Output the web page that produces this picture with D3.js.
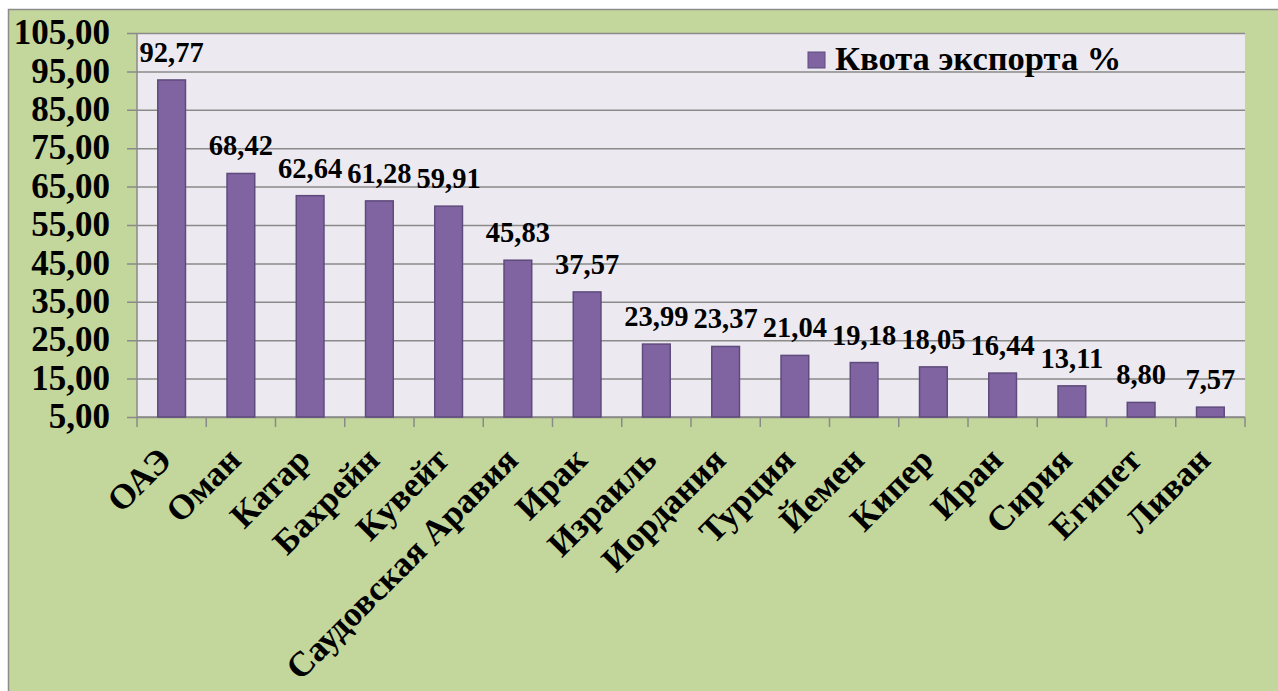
<!DOCTYPE html>
<html>
<head>
<meta charset="utf-8">
<script src="https://cdn.jsdelivr.net/npm/d3@7"></script>
</head>
<body style="margin:0">
<svg id="chart" width="1278" height="691"></svg>
<script>
const categories = ["ОАЭ", "Оман", "Катар", "Бахрейн", "Кувейт", "Саудовская Аравия", "Ирак", "Израиль",
  "Иордания", "Турция", "Йемен", "Кипер", "Иран", "Сирия", "Египет", "Ливан"];
const exportQuota = [92.77, 68.42, 62.64, 61.28, 59.91, 45.83, 37.57, 23.99, 23.37, 21.04, 19.18, 18.05, 16.44, 13.11, 8.80, 7.57];
const yTicks = [5, 15, 25, 35, 45, 55, 65, 75, 85, 95, 105];
const seriesName = "Квота экспорта %";

const fmt = (v) => d3.format(".2f")(v).replace(".", ",");

// shared text styling
const txt = (sel, size) => sel
  .style("font-family", "\"Liberation Serif\"")
  .style("font-weight", "bold")
  .style("font-size", size + "px");

const svg = d3.select("#chart");
const plot = { left: 137, top: 33, right: 1245, bottom: 417 };

// outer chart area
svg.append("rect")
  .attr("x", 8.5).attr("y", 9.5)
  .attr("width", 1300).attr("height", 700)
  .attr("fill", "#C3D69B")
  .attr("stroke", "#8c8c8c")
  .attr("stroke-width", 1.5);

svg.append("rect")
  .attr("x", plot.left).attr("y", plot.top)
  .attr("width", plot.right - plot.left).attr("height", plot.bottom - plot.top)
  .attr("fill", "#ECEAF0");

const x = d3.scaleBand()
  .domain(categories)
  .range([plot.left, plot.right])
  .paddingInner(0.6)
  .paddingOuter(0.3);
const xTick = d3.scaleBand().domain(categories).range([plot.left, plot.right]);
const y = d3.scaleLinear().domain([5, 105]).range([plot.bottom, plot.top]);

// gridlines + y ticks
svg.append("g")
  .attr("transform", `translate(${plot.right},0)`)
  .call(d3.axisLeft(y).tickValues(yTicks).tickSize(plot.right - plot.left + 10).tickFormat(""))
  .call((g) => g.select(".domain").remove())
  .call((g) => g.selectAll(".tick line").attr("stroke", "#8a8a8a").attr("stroke-width", 1.5));

// y labels
svg.append("g")
  .selectAll("text")
  .data(yTicks)
  .join("text")
  .attr("x", 110)
  .attr("y", (d) => y(d))
  .attr("dy", "0.32em")
  .attr("text-anchor", "end")
  .call(txt, 35)
  .text((d) => fmt(d));

// y axis line
svg.append("line")
  .attr("x1", plot.left).attr("x2", plot.left)
  .attr("y1", plot.top).attr("y2", plot.bottom)
  .attr("stroke", "#8a8a8a").attr("stroke-width", 1.5);

// x axis with tick marks at category boundaries
const xAxisG = svg.append("g").attr("transform", `translate(0,${plot.bottom})`);
xAxisG.append("line")
  .attr("x1", plot.left).attr("x2", plot.right)
  .attr("stroke", "#8a8a8a").attr("stroke-width", 1.5);
xAxisG.selectAll("line.tk")
  .data([...categories.map((c) => xTick(c)), plot.right])
  .join("line")
  .attr("class", "tk")
  .attr("x1", (d) => d).attr("x2", (d) => d)
  .attr("y1", 0).attr("y2", 10)
  .attr("stroke", "#8a8a8a").attr("stroke-width", 1.5);

// bars
svg.append("g")
  .selectAll("rect")
  .data(exportQuota)
  .join("rect")
  .attr("x", (d, i) => x(categories[i]))
  .attr("y", (d) => y(d))
  .attr("width", x.bandwidth())
  .attr("height", (d) => plot.bottom - y(d))
  .attr("fill", "#8064A2")
  .attr("stroke", "#5E4A7C")
  .attr("stroke-width", 1.5);

// value labels
svg.append("g")
  .selectAll("text")
  .data(exportQuota)
  .join("text")
  .attr("x", (d, i) => x(categories[i]) + x.bandwidth() / 2)
  .attr("y", (d) => y(d) - 18)
  .attr("text-anchor", "middle")
  .call(txt, 28.5)
  .text((d) => fmt(d));

// category labels
svg.append("g")
  .selectAll("text")
  .data(categories)
  .join("text")
  .attr("transform", (d) => `translate(${xTick(d) + xTick.bandwidth() / 2 + 2},${plot.bottom + 45}) rotate(-45)`)
  .attr("text-anchor", "end")
  .call(txt, 35)
  .text((d) => d);

// legend
const legend = svg.append("g").attr("transform", "translate(808,52)");
legend.append("rect")
  .attr("width", 17).attr("height", 16)
  .attr("fill", "#8064A2").attr("stroke", "#5E4A7C").attr("stroke-width", 1);
legend.append("text")
  .attr("x", 27).attr("y", 18)
  .call(txt, 34.5)
  .text(seriesName);
</script>
</body>
</html>
